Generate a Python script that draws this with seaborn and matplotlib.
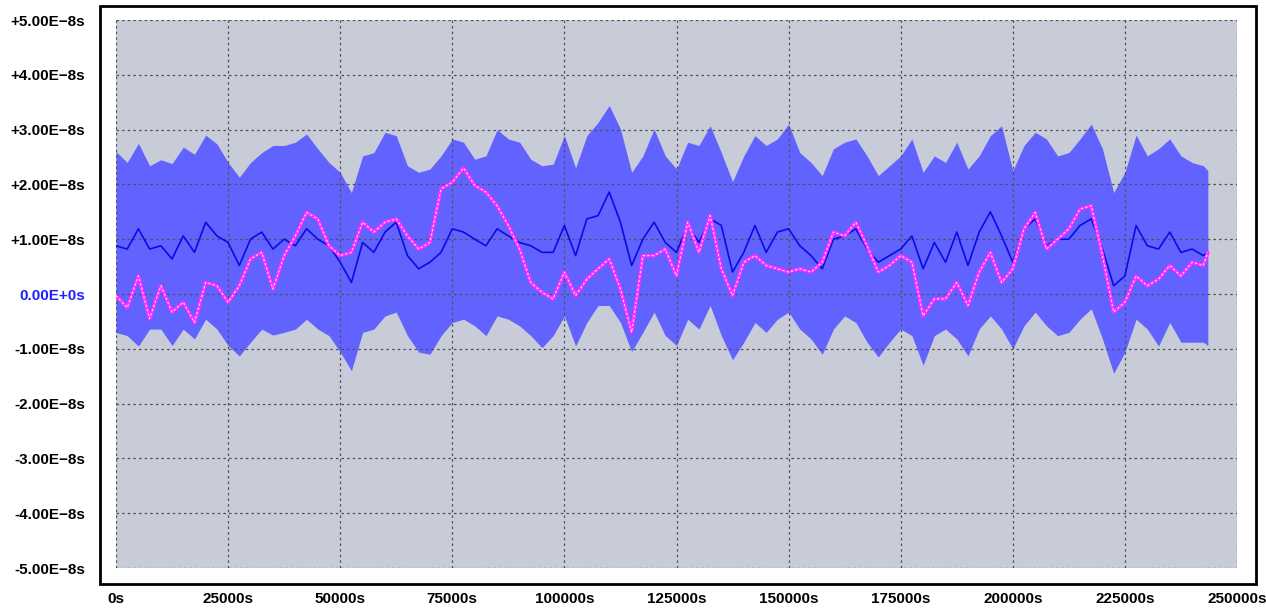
import numpy as np
import pandas as pd
import matplotlib
matplotlib.use("Agg")
import matplotlib.pyplot as plt
import seaborn as sns
from matplotlib.patches import Rectangle

# ---- data (values in units of 1e-8 s) ----
time_s = list(range(0, 242501, 2500)) + [243500]

upper_env = [
    2.60, 2.40, 2.75, 2.34, 2.45, 2.38, 2.68, 2.55, 2.90, 2.74, 2.40, 2.13, 2.40, 2.58, 2.71, 2.71, 2.77, 2.92, 2.65, 2.40, 2.22, 1.85,
    2.52, 2.58, 2.95, 2.89, 2.34, 2.22, 2.28, 2.52, 2.83, 2.77, 2.46, 2.52, 3.00, 2.83, 2.77, 2.46, 2.34, 2.37, 2.89, 2.30, 2.89, 3.13,
    3.44, 3.01, 2.22, 2.52, 3.01, 2.52, 2.28, 2.77, 2.71, 3.07, 2.58, 2.05, 2.52, 2.89, 2.71, 2.83, 3.10, 2.58, 2.40, 2.16, 2.65, 2.77,
    2.83, 2.52, 2.16, 2.34, 2.52, 2.83, 2.22, 2.52, 2.40, 2.77, 2.28, 2.52, 2.89, 3.07, 2.25, 2.71, 2.95, 2.83, 2.52, 2.58, 2.83,
    3.10, 2.65, 1.85, 2.22, 2.90, 2.52, 2.65, 2.83, 2.52, 2.40, 2.34, 2.25,
]
lower_env = [
    -0.70, -0.76, -0.95, -0.64, -0.64, -0.94, -0.64, -0.82, -0.46, -0.64, -0.94, -1.13, -0.88, -0.64, -0.75, -0.70, -0.64, -0.46, -0.64, -0.76, -1.06, -1.40,
    -0.70, -0.64, -0.40, -0.33, -0.76, -1.06, -1.10, -0.76, -0.52, -0.46, -0.58, -0.76, -0.40, -0.46, -0.58, -0.76, -0.98, -0.76, -0.40, -0.95, -0.52, -0.21,
    -0.21, -0.52, -1.05, -0.70, -0.33, -0.76, -0.94, -0.46, -0.64, -0.21, -0.76, -1.20, -0.88, -0.52, -0.70, -0.46, -0.33, -0.64, -0.82, -1.10, -0.64, -0.40,
    -0.52, -0.88, -1.15, -0.88, -0.64, -0.76, -1.30, -0.76, -0.64, -0.82, -1.13, -0.64, -0.40, -0.64, -1.00, -0.58, -0.33, -0.58, -0.76, -0.70, -0.46,
    -0.27, -0.82, -1.45, -1.06, -0.46, -0.64, -0.95, -0.52, -0.88, -0.88, -0.88, -0.94,
]
mean_line = [
    0.88, 0.82, 1.19, 0.82, 0.88, 0.64, 1.06, 0.76, 1.31, 1.06, 0.94, 0.52, 1.00, 1.13, 0.82, 1.00, 0.88, 1.19, 1.00, 0.88, 0.58, 0.21,
    0.94, 0.76, 1.13, 1.31, 0.70, 0.46, 0.58, 0.76, 1.19, 1.13, 1.00, 0.88, 1.19, 1.06, 0.94, 0.88, 0.76, 0.76, 1.25, 0.70, 1.37, 1.43,
    1.86, 1.31, 0.52, 1.00, 1.31, 0.94, 0.76, 1.25, 0.94, 1.37, 1.25, 0.40, 0.76, 1.25, 0.76, 1.13, 1.19, 0.88, 0.70, 0.46, 1.00, 1.06,
    1.19, 0.82, 0.58, 0.70, 0.82, 1.06, 0.46, 0.94, 0.58, 1.13, 0.52, 1.13, 1.50, 1.06, 0.58, 1.19, 1.37, 0.88, 1.00, 1.00, 1.25,
    1.37, 0.82, 0.15, 0.33, 1.25, 0.88, 0.82, 1.13, 0.76, 0.82, 0.70, 0.76,
]
phase_line = [
    -0.03, -0.25, 0.33, -0.45, 0.15, -0.33, -0.15, -0.52, 0.21, 0.15, -0.15, 0.15, 0.64, 0.76, 0.09, 0.70, 1.06, 1.49, 1.37, 0.88, 0.70, 0.76,
    1.31, 1.13, 1.31, 1.37, 1.06, 0.82, 0.94, 1.92, 2.04, 2.30, 1.98, 1.86, 1.61, 1.25, 0.82, 0.21, 0.03, -0.09, 0.40, -0.03, 0.27, 0.46,
    0.64, 0.09, -0.70, 0.70, 0.70, 0.82, 0.33, 1.31, 0.76, 1.43, 0.46, -0.03, 0.58, 0.70, 0.52, 0.46, 0.40, 0.46, 0.40, 0.58, 1.13, 1.06,
    1.31, 0.88, 0.40, 0.52, 0.70, 0.58, -0.40, -0.09, -0.09, 0.21, -0.21, 0.40, 0.76, 0.21, 0.46, 1.19, 1.49, 0.82, 1.00, 1.19, 1.55,
    1.61, 0.70, -0.33, -0.15, 0.33, 0.15, 0.27, 0.52, 0.33, 0.58, 0.52, 0.76,
]

x_ticks = [0, 25000, 50000, 75000, 100000, 125000, 150000, 175000, 200000, 225000, 250000]
x_labels = ["0s", "25000s", "50000s", "75000s", "100000s", "125000s", "150000s",
            "175000s", "200000s", "225000s", "250000s"]
y_ticks = [5, 4, 3, 2, 1, 0, -1, -2, -3, -4, -5]
y_labels = ["+5.00E\u22128s", "+4.00E\u22128s", "+3.00E\u22128s", "+2.00E\u22128s", "+1.00E\u22128s",
            "0.00E+0s", "-1.00E\u22128s", "-2.00E\u22128s", "-3.00E\u22128s", "-4.00E\u22128s", "-5.00E\u22128s"]

df = pd.DataFrame({"time": time_s, "upper": upper_env, "lower": lower_env,
                   "mean": mean_line, "phase": phase_line})

sns.set_style("white")
plt.rcParams["font.family"] = ["Liberation Sans", "DejaVu Sans"]

W, H = 1266, 608
fig = plt.figure(figsize=(W / 100, H / 100), dpi=100)
ax = fig.add_axes([116 / W, 1 - 568 / H, (1237 - 116) / W, (568 - 20) / H])
ax.set_facecolor("#c8ccd8")

ax.fill_between(df["time"], df["lower"], df["upper"], color="#6262ff", lw=0, zorder=2)
sns.lineplot(data=df, x="time", y="mean", ax=ax, color="#0a0ae6", lw=1.2, zorder=3)
sns.lineplot(data=df, x="time", y="phase", ax=ax, color="#ff2cff", lw=2.6, zorder=4)
ax.plot(df["time"], df["phase"], color="#ffd6ff", lw=0.8, ls=(0, (2, 2)), zorder=5)

ax.set_xlim(0, 250000)
ax.set_ylim(-5, 5)
ax.set_xticks(x_ticks)
ax.set_xticklabels(x_labels)
ax.set_yticks(y_ticks)
ax.set_yticklabels(y_labels)
ax.set_xlabel("")
ax.set_ylabel("")
ax.grid(True, color="#505050", ls=(0, (2, 2.5)), lw=0.9, zorder=1)
ax.set_axisbelow(False)
for g in ax.get_xgridlines() + ax.get_ygridlines():
    g.set_zorder(2.5)
for s in ax.spines.values():
    s.set_visible(False)
ax.tick_params(axis="both", length=0, labelsize=11)
ax.tick_params(axis="y", pad=22)
ax.tick_params(axis="x", pad=17)
for lab in ax.get_xticklabels() + ax.get_yticklabels():
    lab.set_fontweight("bold")
    lab.set_color("black")
ax.get_yticklabels()[5].set_color("#2020ff")

# outer black frame
fig.patches.append(Rectangle((100 / W, 1 - 584 / H), (1256 - 100) / W, (584 - 6) / H,
                             transform=fig.transFigure, fill=False, ec="black", lw=2))

fig.savefig("out.png", dpi=100, facecolor="white")
